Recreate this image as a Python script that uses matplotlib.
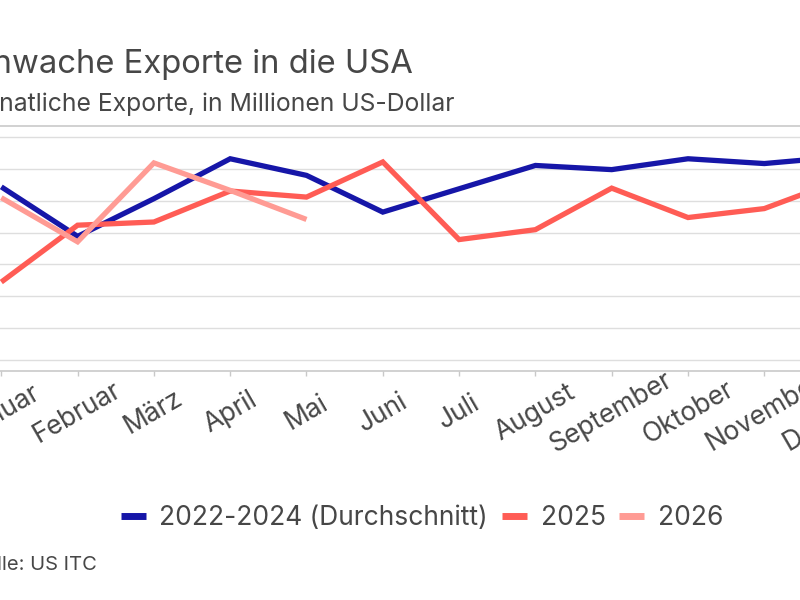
import matplotlib
matplotlib.use("Agg")
import matplotlib.pyplot as plt

months = ["Januar", "Februar", "März", "April", "Mai", "Juni", "Juli",
          "August", "September", "Oktober", "November", "Dezember"]
avg_2022_2024 = [1343, 1188, 1306, 1431, 1379, 1264, 1337, 1410, 1397, 1431, 1416, 1437]
y2025 = [1045, 1223, 1233, 1330, 1311, 1421, 1178, 1209, 1339, 1247, 1275, 1364]
y2026 = [1309, 1171, 1418, 1332, 1241]
grid_values = [800, 900, 1000, 1100, 1200, 1300, 1400, 1500]

FONT = "Inter"
TXT = "#474747"
plt.rcParams["font.family"] = [FONT, "DejaVu Sans"]

W, H = 800, 600
fig = plt.figure(figsize=(8, 6), dpi=100)

# plot area: wider than the visible image (reference is a crop)
ax_left_px, ax_right_px = -80, 880
ax_top_px, ax_bot_px = 126, 370.7
ax = fig.add_axes([ax_left_px / W, 1 - ax_bot_px / H,
                   (ax_right_px - ax_left_px) / W, (ax_bot_px - ax_top_px) / H])

x = list(range(len(months)))
c_blue, c_red, c_pink = "#1616A8", "#FF5C55", "#FF9B94"
lw = 3.8
ax.plot(x, avg_2022_2024, color=c_blue, lw=lw, solid_joinstyle="miter",
        solid_capstyle="butt", label="2022-2024 (Durchschnitt)", zorder=3)
ax.plot(x, y2025, color=c_red, lw=lw, solid_joinstyle="miter",
        solid_capstyle="butt", label="2025", zorder=4)
ax.plot(list(range(len(y2026))), y2026, color=c_pink, lw=lw, solid_joinstyle="miter",
        solid_capstyle="butt", label="2026", zorder=5)

# x scale: first category at px 1.3, spacing 76.3 px
px0, dpx = 1.3, 76.3
ax.set_xlim((ax_left_px - px0) / dpx, (ax_right_px - px0) / dpx)
# y scale: lowest gridline at px 360.3, spacing 31.94 px per 100
g0_px, gstep_px = 360.3, 31.94
gstep = grid_values[1] - grid_values[0]
ax.set_ylim(grid_values[0] - (ax_bot_px - g0_px) / gstep_px * gstep,
            grid_values[0] + (g0_px - ax_top_px) / gstep_px * gstep)

ax.set_yticks(grid_values)
ax.set_yticklabels([])
ax.tick_params(axis="y", length=0)
ax.grid(axis="y", color="#DEDEDE", lw=1.0, zorder=0)
for s in ["left", "right"]:
    ax.spines[s].set_visible(False)
for s in ["top", "bottom"]:
    ax.spines[s].set_color("#C9C9C9")
    ax.spines[s].set_linewidth(1.2)

ax.set_xticks(x)
ax.set_xticklabels(months, rotation=30, ha="center", va="center",
                   rotation_mode="default", fontsize=19, color=TXT)
ax.tick_params(axis="x", direction="out", length=3.6, width=1.0,
               color="#C9C9C9", pad=26.5)

fig.text(413 / W, 1 - 72.7 / H, "Schwache Exporte in die USA", ha="right",
         va="baseline", fontsize=23.6, color=TXT)
fig.text(454 / W, 1 - 110.7 / H, "Monatliche Exporte, in Millionen US-Dollar",
         ha="right", va="baseline", fontsize=17.8, color=TXT)
fig.text(97 / W, 1 - 570 / H, "Quelle: US ITC", ha="right", va="baseline",
         fontsize=14.5, color=TXT)

leg = fig.legend(loc="center", bbox_to_anchor=(422 / W, 1 - 518 / H), ncol=3,
                 frameon=False, fontsize=19, handlelength=0.95,
                 handletextpad=0.52, columnspacing=0.52, borderpad=0,
                 borderaxespad=0)
for t in leg.get_texts():
    t.set_color(TXT)
for h in leg.get_lines():
    h.set_linewidth(5)

fig.savefig("out.png", dpi=100)
